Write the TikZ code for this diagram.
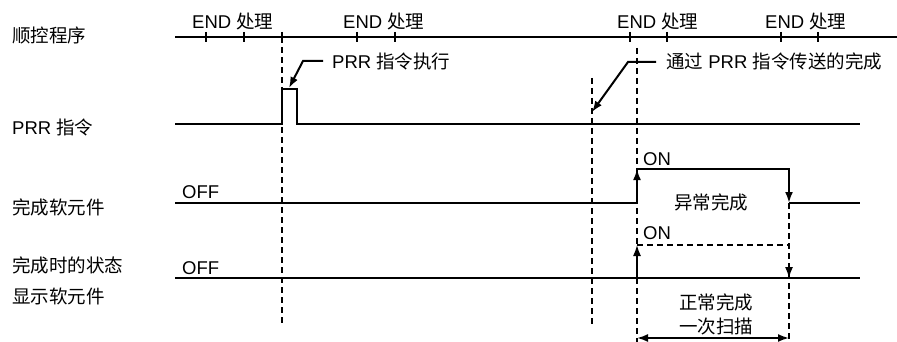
\documentclass[tikz,border=0pt]{standalone}
\usepackage{fontspec}
\setmainfont{Liberation Sans}
\newfontfamily\cjk{Noto Sans CJK SC}
\newcommand{\zh}[1]{{\cjk #1}}
\usetikzlibrary{arrows.meta, positioning}

\begin{document}
\begin{tikzpicture}[
        x=1pt, y=-1pt,
        font=\fontsize{18.5}{22}\selectfont,
        >={Latex[length=11pt,width=8pt]},
        signal/.style={draw, line width=2.3pt},
        guide/.style={draw, line width=1.4pt, dash pattern=on 6pt off 4pt},
        pointer/.style={draw, line width=2pt, ->},
        rowlabel/.style={anchor=west, inner sep=0pt, align=left},
        endlabel/.style={anchor=west, inner sep=0pt},
        state/.style={anchor=west, inner sep=0pt},
        note/.style={inner sep=0pt, align=center}
    ]
    \useasboundingbox (0,0) rectangle (897,342);

    % Row labels
    \node[rowlabel] (seqlabel) at (12,35) {\zh{顺控程序}};
    \node[rowlabel] (prrlabel) at (12,127) {PRR \zh{指令}};
    \node[rowlabel] (cmplabel) at (12,207) {\zh{完成软元件}};
    \node[rowlabel, font=\fontsize{18.5}{31}\selectfont] (stslabel) at (12,281) {\zh{完成时的状态}\\\zh{显示软元件}};

    % Sequence program
    \coordinate (seqL) at (175,37);
    \coordinate (seqR) at (897,37);
    \draw[signal] (seqL) -- (seqR);
    \foreach \t in {206,244,282,357,395,630,667,781,818}
        \draw[signal] (\t,32) -- (\t,42);
    \node[endlabel] (end1) at (192,21) {END \zh{处理}};
    \node[endlabel] (end2) at (343,21) {END \zh{处理}};
    \node[endlabel] (end3) at (617,21) {END \zh{处理}};
    \node[endlabel] (end4) at (765,21) {END \zh{处理}};

    % PRR instruction
    \coordinate (prrL) at (175,124);
    \coordinate (prrUp) at (282,124);
    \coordinate (prrDown) at (297,124);
    \coordinate (prrR) at (860,124);
    \draw[signal] (prrL) -- (prrUp) -- ++(0,-35) -| (prrDown) -- (prrR);

    % Completion device
    \coordinate (cmpL) at (175,203);
    \coordinate (cmpUp) at (637,203);
    \coordinate (cmpHi) at (637,169);
    \coordinate (cmpHiR) at (789,169);
    \coordinate (cmpDown) at (789,203);
    \coordinate (cmpR) at (860,203);
    \draw[signal] (cmpL) -- (cmpUp);
    \draw[signal, ->] (cmpUp) -- (cmpHi);
    \draw[signal, ->] (cmpHi) -- (cmpHiR) -- (cmpDown);
    \draw[signal] (cmpDown) -- (cmpR);

    % Completion status device
    \coordinate (stsL) at (175,278);
    \coordinate (stsUp) at (637,278);
    \coordinate (stsHi) at (637,245);
    \coordinate (stsHiR) at (789,245);
    \coordinate (stsDown) at (789,278);
    \coordinate (stsR) at (860,278);
    \draw[signal] (stsL) -- (stsR);
    \draw[guide, ->] (stsUp) -- (stsHi);
    \draw[guide, ->] (stsHi) -- (stsHiR) -- (stsDown);

    % State labels
    \node[state] (off1) at (182,192) {OFF};
    \node[state] (off2) at (182,268) {OFF};
    \node[state] (on1) at (643,159) {ON};
    \node[state] (on2) at (643,233) {ON};

    % Guide lines
    \draw[guide] (282,37) -- (282,324);
    \draw[guide] (592,78) -- (592,324);
    \draw[guide] (637,48) -- (637,342);
    \draw[guide] (789,203) -- (789,342);

    % Pointers
    \node[endlabel] (execnote) at (332,61) {PRR \zh{指令执行}};
    \coordinate (execbend) at (303,61);
    \coordinate (exectip) at (289,88);
    \draw[pointer] (execnote.west) ++(-9,0) -- (execbend) -- (exectip);

    \node[endlabel] (sendnote) at (666,61) {\zh{通过} PRR \zh{指令传送的完成}};
    \coordinate (sendbend) at (628,62);
    \coordinate (sendtip) at (592,112);
    \draw[pointer] (sendnote.west) ++(-10,1) -- (sendbend) -- (sendtip);

    % Results
    \node[note] (errnote) at (711,202) {\zh{异常完成}};
    \node[note] (oknote) at (716,302) {\zh{正常完成}};
    \node[note] (scannote) at (716,327) {\zh{一次扫描}};
    \draw[line width=1.8pt, <->] (637,338) -- (789,338);

\end{tikzpicture}
\end{document}
